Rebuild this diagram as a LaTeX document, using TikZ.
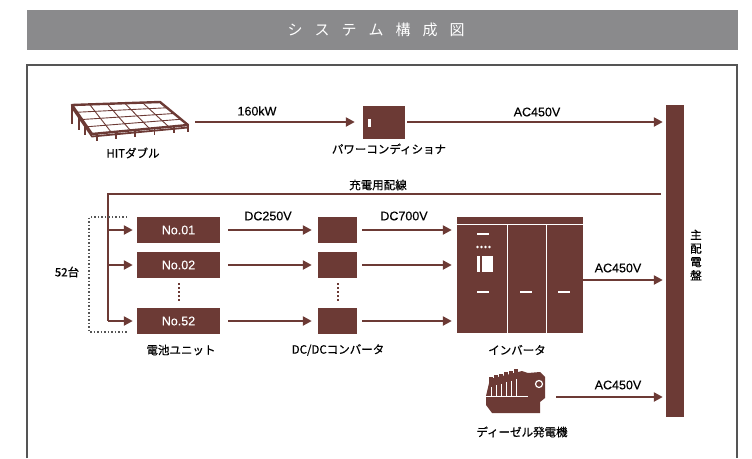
\documentclass[tikz,border=0pt]{standalone}
\usepackage{fontspec}
\setmainfont{Liberation Sans}
\newfontfamily\lat[FakeBold=0.3]{Liberation Sans}
\newfontfamily\jp[FakeBold=0.6]{Noto Sans CJK JP}
\newfontfamily\jptitle{Noto Sans CJK JP}
\usetikzlibrary{arrows.meta,calc,positioning}
\definecolor{brown1}{RGB}{108,58,53}
\definecolor{gray1}{RGB}{138,138,140}
\definecolor{frame1}{RGB}{85,85,85}

\begin{document}
\begin{tikzpicture}
[x=1pt,y=-1pt,
box/.style ={rectangle, fill=brown1, inner sep=0pt},
unit/.style ={box, minimum width=83pt, minimum height=26pt,
text=white, font=\lat\fontsize{12.5}{14}\selectfont},
conv/.style ={box, minimum width=39pt, minimum height=26pt},
icon/.style ={inner sep=0pt},
line/.style ={draw=brown1, line width=2.6pt, -{Triangle[length=9pt,width=9pt]}},
wire/.style ={draw=brown1, line width=2.6pt},
lbl/.style ={font=\lat\fontsize{12.5}{14}\selectfont},
jlbl/.style ={font=\jp\fontsize{11.5}{13.5}\selectfont},
vdots/.style ={draw=brown1, line width=2pt, dash pattern=on 1.5pt off 2.5pt},
wdash/.style ={draw=white, line width=2pt}]
\useasboundingbox (0,0) rectangle (752,458);

% title bar and frame
\fill[gray1] (27,10) rectangle (738,50);
\node[text=white, font=\jptitle\fontsize{15}{16}\selectfont] (title) at (376,30)
  {シ\hspace{12pt}ス\hspace{12pt}テ\hspace{12pt}ム\hspace{12pt}構\hspace{12pt}成\hspace{12pt}図};
\draw[frame1, line width=1.2pt] (27,458) -- (27,65) -- (737,65) -- (737,458);

%\node [block] ...
\node [icon, minimum width=118pt, minimum height=36pt] (hit) at (130,119) {};
\node [box, minimum width=42pt, minimum height=33pt] (pcs) at (384,122) {};
\node [box, minimum width=18pt, minimum height=312pt] (bus) at (675,261) {};

\node [unit] (u1) at (178.5,230) {No.01};
\node [unit] (u2) at (178.5,265) {No.02};
\node [unit] (u3) at (178.5,321) {No.52};
\node [conv] (c1) at (337.5,230) {};
\node [conv] (c2) at (337.5,265) {};
\node [conv] (c3) at (337.5,321) {};
\node [box, minimum width=126pt, minimum height=116pt] (inv) at (520,275) {};
\node [icon, minimum width=60pt, minimum height=40pt] (gen) at (515,397) {};

% solar array
\coordinate (pa) at (72,105);
\coordinate (pb) at (160,102);
\coordinate (pc) at (188,125);
\coordinate (pd) at (92,134);
\foreach \t/\l in {0/19,0.33/15,0.66/11}
  \draw[brown1, line width=1.8pt] ($(pa)!\t!(pd)$) -- ++(0,\l);
\foreach \t in {0.05,0.25,0.45,0.65,0.85,1}
  \draw[brown1, line width=1.8pt] ($(pd)!\t!(pc)$) -- ++(0,7);
\foreach \i in {1,...,4}
  \draw[brown1, line width=0.9pt] ($(pa)!\i/5!(pb)$) -- ($(pd)!\i/5!(pc)$);
\foreach \i in {1,...,3}
  \draw[brown1, line width=0.9pt] ($(pa)!\i/4!(pd)$) -- ($(pb)!\i/4!(pc)$);
\draw[brown1, line width=2.4pt, line join=round] (pa) -- (pb) -- (pc) -- (pd) -- cycle;
\draw[brown1, line width=1.8pt] ($(pa)+(0,2.5)$) -- ($(pd)+(0,2.5)$) -- ($(pc)+(0,2.5)$);

% power conditioner front
\fill[white] (368,119) rectangle (371,127);

% inverter cabinet
\draw[white, line width=0.8pt] (457,224) -- (583,224);
\draw[white, line width=0.8pt] (507,224) -- (507,333);
\draw[white, line width=0.8pt] (546,224) -- (546,333);
\draw[wdash] (477,234) -- (489,234);
\foreach \x in {477.5,481.5,485.5,489.5}
  \fill[white] (\x,247) circle (1.4);
\fill[white] (477,256) rectangle (480,272);
\fill[white] (482,256) rectangle (493,272);
\foreach \x in {477,520,558}
  \draw[wdash] (\x,292) -- ++(12,0);

% diesel generator
\fill[brown1] (486,396) -- (490,379) -- (522,371) -- (528,373) -- (540,372)
  -- (545,377) -- (545,398) -- (540,402) -- (540,413) -- (492,413)
  -- (486,405) -- cycle;
\foreach \i in {0,...,5} {
  \fill[brown1] ({489+5*\i},{377-1.6*\i}) rectangle ++(4,8);
  \draw[white, line width=0.7pt] ({491+5*\i},{387-1.6*\i}) -- ({491+5*\i},396);
}
\draw[white, line width=0.7pt] (486,396) -- (528,396);
\draw[white, line width=1.2pt] (539,384) circle (3.5);

% connectors
\draw [line, shorten <=6pt, shorten >=8pt] (hit.east |- pcs) to (pcs.west);
\draw [line, shorten <=2pt, shorten >=3pt] (pcs.east) to (bus.west |- pcs);

\coordinate (tap) at (108,194);
\draw [wire] ($(bus.west |- tap)+(-5,0)$) -- (tap) -- (tap |- u3);
\foreach \n in {u1,u2,u3}
  \draw [line, shorten >=4pt] (tap |- \n) to (\n.west);
\foreach \i in {1,2,3} {
  \draw [line, shorten <=8pt, shorten >=6pt] (u\i.east) to (c\i.west);
  \draw [line, shorten <=5pt, shorten >=5pt] (c\i.east) to (inv.west |- c\i);
}
\coordinate (acout) at (583,280);
\draw [line, shorten >=3pt] (acout) to (bus.west |- acout);
\draw [line, shorten <=11pt, shorten >=3pt] (gen.east) to (bus.west |- gen.east);

\draw [vdots] ($(u2.south)+(0,5)$) -- ($(u3.north)+(0,-5)$);
\draw [vdots] ($(c2.south)+(0,5)$) -- ($(c3.north)+(0,-5)$);
\draw [frame1, line width=1.1pt, dash pattern=on 1.5pt off 2pt]
  (127,217) -- (89,217) -- (89,332) -- (127,332);

% labels
\node [lbl] (l160) at (257,111) {160kW};
\node [lbl] (lac1) at (537,112) {AC450V};
\node [jlbl] (lcharge) at (378,185) {充電用配線};
\node [lbl] (ldc250) at (268,216) {DC250V};
\node [lbl] (ldc700) at (404,216) {DC700V};
\node [lbl] (lac2) at (618,268) {AC450V};
\node [lbl] (lac3) at (618,385) {AC450V};
\node [jlbl] (lhit) at (133,153) {HITダブル};
\node [jlbl] (lpcs) at (389,149) {パワーコンディショナ};
\node [jlbl] (l52) at (67,272) {52台};
\node [jlbl] (lunit) at (181,350) {電池ユニット};
\node [jlbl] (lconv) at (338,350) {DC/DCコンバータ};
\node [jlbl] (linv) at (517,350) {インバータ};
\node [jlbl] (lgen) at (522,432) {ディーゼル発電機};
\node [jlbl, align=center] (lbus) at (696,255) {主\\配\\電\\盤};

\end{tikzpicture}
\end{document}
